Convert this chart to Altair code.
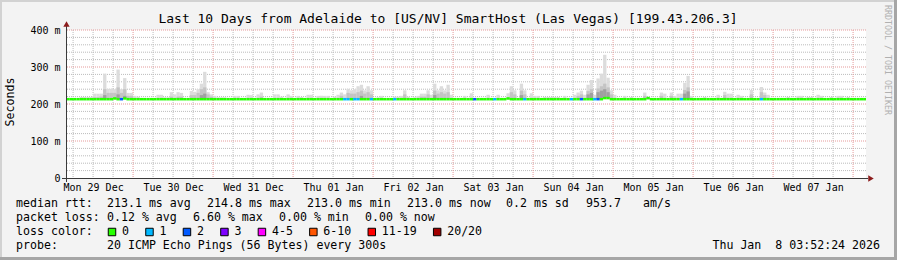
import altair as alt
import pandas as pd

MONO = "DejaVu Sans Mono"
TITLE = "Last 10 Days from Adelaide to [US/NV] SmartHost (Las Vegas) [199.43.206.3]"
VIEW_START = "2025-12-29 03:52:24"
VIEW_END = "2026-01-08 03:52:24"
FIRST_BIN = "2025-12-29 04:00:00"

# hourly smoke: highest ping (ms)
HI = [
    214, 214, 214, 214, 219, 219, 219, 219, 228, 228, 228, 282,
    241, 241, 240, 293, 240, 270, 230, 230, 222, 220, 214, 214,
    214, 214, 214, 225, 225, 218, 218, 232, 226, 232, 230, 215,
    215, 235, 233, 240, 255, 287, 232, 226, 222, 218, 218, 218,
    214, 214, 222, 222, 214, 214, 225, 224, 214, 226, 231, 214,
    214, 214, 226, 226, 220, 214, 226, 222, 214, 222, 219, 214,
    225, 225, 214, 222, 222, 222, 222, 214, 220, 225, 231, 226,
    241, 237, 240, 248, 252, 237, 248, 237, 214, 218, 222, 214,
    214, 214, 220, 220, 222, 237, 220, 214, 218, 222, 228, 228,
    237, 225, 255, 237, 248, 237, 252, 225, 214, 214, 214, 222,
    214, 229, 214, 214, 214, 214, 225, 214, 214, 225, 214, 214,
    229, 248, 237, 214, 255, 237, 214, 229, 222, 222, 214, 219,
    219, 219, 219, 219, 214, 222, 214, 214, 225, 231, 236, 225,
    252, 265, 225, 269, 282, 333, 271, 237, 225, 214, 214, 222,
    214, 219, 214, 214, 214, 231, 219, 214, 214, 214, 231, 228,
    214, 231, 222, 228, 228, 257, 276, 222, 214, 214, 214, 219,
    214, 214, 214, 225, 214, 233, 228, 228, 214, 225, 222, 214,
    214, 238, 214, 214, 246, 231, 225, 214, 214, 214, 214, 214,
    219, 214, 214, 222, 222, 214, 219, 219, 214, 225, 222, 214,
    214, 219, 214, 222, 222, 214, 219, 214, 214, 214, 214, 214,
]
# hourly smoke: inner (darker) band top (ms)
MID = [
    213, 213, 213, 213, 213, 213, 213, 213, 218, 218, 220, 240,
    230, 230, 230, 245, 230, 240, 222, 222, 216, 216, 213, 213,
    213, 213, 213, 213, 213, 213, 213, 220, 213, 220, 220, 213,
    213, 224, 224, 230, 240, 245, 226, 220, 213, 213, 213, 213,
    213, 213, 213, 213, 213, 213, 213, 213, 213, 213, 220, 213,
    213, 213, 213, 213, 213, 213, 213, 213, 213, 213, 213, 213,
    213, 213, 213, 213, 213, 213, 213, 213, 213, 213, 222, 213,
    230, 228, 228, 232, 236, 228, 232, 226, 213, 213, 213, 213,
    213, 213, 213, 213, 213, 226, 213, 213, 213, 213, 220, 220,
    226, 213, 236, 228, 232, 228, 232, 213, 213, 213, 213, 213,
    213, 213, 213, 213, 213, 213, 213, 213, 213, 213, 213, 213,
    213, 232, 226, 213, 236, 226, 213, 213, 213, 213, 213, 213,
    213, 213, 213, 213, 213, 213, 213, 213, 213, 222, 226, 213,
    235, 240, 213, 242, 248, 255, 245, 226, 213, 213, 213, 213,
    213, 213, 213, 213, 213, 222, 213, 213, 213, 213, 222, 213,
    213, 222, 213, 213, 213, 238, 245, 213, 213, 213, 213, 213,
    213, 213, 213, 213, 213, 224, 213, 213, 213, 213, 213, 213,
    213, 226, 213, 213, 232, 224, 213, 213, 213, 213, 213, 213,
    213, 213, 213, 213, 213, 213, 213, 213, 213, 213, 213, 213,
    213, 213, 213, 213, 213, 213, 213, 213, 213, 213, 213, 213,
]
# hourly smoke: core (darkest) band top (ms)
CORE = [
    213, 213, 213, 213, 213, 213, 213, 213, 213, 213, 213, 224,
    213, 213, 213, 226, 213, 222, 213, 213, 213, 213, 213, 213,
    213, 213, 213, 213, 213, 213, 213, 213, 213, 213, 213, 213,
    213, 213, 213, 213, 224, 228, 213, 213, 213, 213, 213, 213,
    213, 213, 213, 213, 213, 213, 213, 213, 213, 213, 213, 213,
    213, 213, 213, 213, 213, 213, 213, 213, 213, 213, 213, 213,
    213, 213, 213, 213, 213, 213, 213, 213, 213, 213, 213, 213,
    213, 213, 213, 213, 222, 213, 213, 213, 213, 213, 213, 213,
    213, 213, 213, 213, 213, 213, 213, 213, 213, 213, 213, 213,
    213, 213, 224, 213, 213, 213, 213, 213, 213, 213, 213, 213,
    213, 213, 213, 213, 213, 213, 213, 213, 213, 213, 213, 213,
    213, 213, 213, 213, 224, 213, 213, 213, 213, 213, 213, 213,
    213, 213, 213, 213, 213, 213, 213, 213, 213, 213, 213, 213,
    226, 230, 213, 232, 236, 240, 232, 213, 213, 213, 213, 213,
    213, 213, 213, 213, 213, 213, 213, 213, 213, 213, 213, 213,
    213, 213, 213, 213, 213, 228, 234, 213, 213, 213, 213, 213,
    213, 213, 213, 213, 213, 213, 213, 213, 213, 213, 213, 213,
    213, 213, 213, 213, 213, 213, 213, 213, 213, 213, 213, 213,
    213, 213, 213, 213, 213, 213, 213, 213, 213, 213, 213, 213,
    213, 213, 213, 213, 213, 213, 213, 213, 213, 213, 213, 213,
]
# hourly median rtt (ms)
MEDIAN = [
    213, 213, 213, 213, 213, 213, 213, 213, 213, 213, 213, 213,
    213, 213, 215, 213, 213, 215, 213, 213, 213, 213, 213, 213,
    213, 213, 213, 213, 213, 213, 213, 213, 213, 213, 213, 213,
    213, 213, 213, 213, 213, 213, 213, 213, 213, 213, 213, 213,
    213, 213, 213, 213, 213, 213, 213, 213, 213, 213, 213, 213,
    213, 213, 213, 213, 213, 213, 213, 213, 213, 213, 213, 213,
    213, 213, 213, 213, 213, 213, 213, 213, 213, 213, 213, 213,
    213, 213, 213, 213, 213, 213, 213, 213, 213, 213, 213, 213,
    213, 213, 213, 213, 213, 213, 213, 213, 213, 213, 213, 213,
    213, 213, 213, 213, 213, 213, 213, 213, 213, 213, 213, 213,
    213, 213, 213, 213, 213, 213, 213, 213, 213, 213, 213, 213,
    215, 213, 213, 213, 213, 213, 213, 213, 213, 213, 213, 213,
    213, 213, 213, 213, 213, 213, 213, 213, 213, 213, 213, 213,
    213, 213, 213, 213, 213, 216, 216, 213, 213, 213, 213, 213,
    213, 213, 213, 213, 213, 213, 216, 213, 213, 213, 213, 213,
    213, 213, 213, 213, 213, 213, 213, 213, 213, 213, 213, 213,
    213, 213, 213, 213, 213, 213, 213, 213, 213, 213, 213, 213,
    213, 213, 213, 213, 213, 213, 213, 213, 213, 213, 213, 213,
    213, 213, 213, 213, 213, 213, 213, 213, 213, 213, 213, 213,
    213, 213, 213, 213, 213, 213, 213, 213, 213, 213, 213, 213,
]
# hourly loss class (index into LOSS_LABELS)
LOSS = [
    0, 0, 0, 0, 0, 0, 0, 0, 0, 0, 0, 0,
    0, 0, 0, 0, 2, 0, 0, 0, 0, 0, 0, 0,
    0, 0, 0, 0, 0, 0, 0, 0, 0, 0, 0, 0,
    0, 0, 0, 0, 0, 0, 0, 0, 0, 0, 0, 0,
    0, 0, 0, 0, 0, 0, 0, 0, 0, 0, 0, 0,
    0, 0, 0, 0, 0, 0, 0, 0, 0, 0, 0, 0,
    0, 0, 0, 0, 0, 0, 0, 0, 0, 0, 0, 1,
    1, 0, 1, 1, 0, 0, 0, 1, 0, 0, 0, 0,
    0, 0, 1, 0, 0, 0, 0, 0, 0, 0, 0, 0,
    0, 0, 0, 0, 0, 0, 0, 0, 0, 0, 0, 0,
    0, 0, 2, 0, 0, 0, 0, 0, 1, 0, 0, 0,
    0, 0, 0, 0, 0, 1, 0, 0, 0, 0, 0, 0,
    0, 0, 0, 0, 0, 0, 0, 1, 0, 0, 2, 0,
    0, 0, 1, 2, 0, 0, 0, 0, 0, 0, 0, 0,
    0, 0, 0, 0, 0, 0, 0, 0, 0, 0, 0, 0,
    0, 0, 0, 0, 1, 0, 0, 0, 0, 0, 0, 0,
    0, 0, 0, 0, 0, 0, 0, 0, 0, 0, 0, 0,
    0, 0, 0, 0, 1, 0, 0, 0, 0, 0, 0, 0,
    0, 0, 0, 0, 0, 0, 0, 0, 0, 0, 0, 0,
    0, 0, 0, 0, 0, 0, 0, 0, 0, 0, 0, 0,
]
LOSS_LABELS = ["0", "1", "2", "3", "4-5", "6-10", "11-19", "20/20"]
LOSS_COLORS = ["#26ff00", "#00b8ff", "#0059ff", "#7e00ff", "#ff00ff", "#ff5500", "#ff0000", "#a10000"]

Y_TICKS = list(range(0, 401, 20))

ROW1 = ["median rtt:", "213.1 ms avg", "214.8 ms max", "213.0 ms min", "213.0 ms now", "0.2 ms sd", "953.7", "am/s"]
ROW2 = ["packet loss:", "0.12 % avg", "6.60 % max", "0.00 % min", "0.00 % now"]
ROW4 = ["probe:", "20 ICMP Echo Pings (56 Bytes) every 300s"]
STAMP = "Thu Jan\u00a0\u00a08 03:52:24 2026"
CREDIT = "RRDTOOL / TOBI OETIKER"

assert all(len(a) == 240 for a in (HI, MID, CORE, MEDIAN, LOSS))

# ---------------------------------------------------------------- layout
W, H = 800, 148
PL, PT, PR, PB = 66, 30, 31, 82
CW = 6.98  # footer char width
GRAY = "#bcbcbc"
RED = "#e59a9a"
AXC = "#3a3a3a"
ARROW = "#8c1c1c"


def ms(ts):
    return int(pd.Timestamp(ts, tz="UTC").value // 10**6)


t = pd.date_range(FIRST_BIN, periods=len(HI), freq="h", tz="UTC")
df = pd.DataFrame({
    "t": t.asi8 // 10**6,
    "t2": (t + pd.Timedelta(hours=1)).asi8 // 10**6,
    "hi": HI, "mid": MID, "core": CORE, "med": MEDIAN,
    "loss": [LOSS_LABELS[i] for i in LOSS],
})

grid_vals = [int(v // 10**6) for v in pd.date_range("2025-12-29 06:00", "2026-01-08 00:00", freq="6h", tz="UTC").asi8]

XS = alt.Scale(type="utc", domain=[ms(VIEW_START), ms(VIEW_END)], nice=False)
YS = alt.Scale(domain=[0, 400], nice=False, zero=True)

x_axis = alt.Axis(
    values=grid_vals, title=None, grid=False, domain=False, ticks=False, tickSize=0,
    labelExpr="utchours(datum.value) === 12 ? utcFormat(datum.value, '%a %d %b') : ''",
    labelFont=MONO, labelFontSize=10, labelColor="#000", labelPadding=4,
    labelOverlap=False, labelFlush=False, labelBound=False, labelAngle=0,
)
y_axis = alt.Axis(
    values=Y_TICKS, title=None, grid=False, domain=False, ticks=False, tickSize=0,
    labelExpr="datum.value === 0 ? '0\u00a0\u00a0' : (datum.value % 100 === 0 ? datum.value + ' m' : '')",
    labelFont=MONO, labelFontSize=10, labelColor="#000", labelPadding=6,
    labelOverlap=False, labelFlush=False, labelBound=False, labelBaseline="middle",
)
X = alt.X("t:T", scale=XS, axis=x_axis)
Y = alt.Y("med:Q", scale=YS, axis=y_axis)

layers = []

# grid lines (drawn from the tick lists through the scales)
gx = pd.DataFrame({"t": grid_vals, "major": [pd.Timestamp(v, unit="ms").hour == 0 for v in grid_vals]})
gy = pd.DataFrame({"med": Y_TICKS[1:], "major": [v % 100 == 0 for v in Y_TICKS[1:]]})
for major, col in ((False, GRAY), (True, RED)):
    layers.append(alt.Chart(gx[gx.major == major]).mark_rule(color=col, strokeDash=[1, 1], strokeWidth=1).encode(x=X))
    layers.append(alt.Chart(gy[gy.major == major]).mark_rule(color=col, strokeDash=[1, 1], strokeWidth=1).encode(y=Y))

base = alt.Chart(df)
for field, col in (("hi", "#dcdcdc"), ("mid", "#c4c4c4"), ("core", "#a0a0a0")):
    layers.append(base.mark_rect(color=col, clip=True).encode(x=X, x2="t2:T", y=Y, y2=f"{field}:Q"))
layers.append(
    base.mark_rule(strokeWidth=2.5, clip=True).encode(
        x=X, x2="t2:T", y=Y,
        color=alt.Color("loss:N", scale=alt.Scale(domain=LOSS_LABELS, range=LOSS_COLORS), legend=None),
    )
)


def one():
    return alt.Chart(pd.DataFrame({"k": [0]}))


def rule(x, y, x2=None, y2=None, color=AXC, width=1):
    enc = {"x": alt.value(x - PL), "y": alt.value(y - PT)}
    if x2 is not None:
        enc["x2"] = alt.value(x2 - PL)
    if y2 is not None:
        enc["y2"] = alt.value(y2 - PT)
    return one().mark_rule(color=color, strokeWidth=width).encode(**enc)


def text(s, x, y, size=11.6, align="left", color="#000", angle=0, font=MONO):
    kw = dict(font=font, fontSize=size, align=align, baseline="middle", color=color)
    if angle:
        kw["angle"] = angle
    return alt.Chart(pd.DataFrame({"s": [s]})).mark_text(**kw).encode(
        text="s:N", x=alt.value(x - PL), y=alt.value(y - PT))


# frame
layers += [
    rule(0, 1, x2=897, color="#d2d2d2", width=2),
    rule(1, 0, y2=260, color="#d2d2d2", width=2),
    rule(0, 258.5, x2=897, color="#a6a6a6", width=3),
    rule(895.5, 0, y2=260, color="#a6a6a6", width=3),
]
# axis lines + arrows
layers += [
    rule(66.5, 26, y2=182, color=AXC),
    rule(62, 178.5, x2=868, color=AXC),
    one().mark_point(shape="triangle-up", filled=True, size=40, color=ARROW, opacity=1).encode(
        x=alt.value(66.5 - PL), y=alt.value(24 - PT)),
    one().mark_point(shape="triangle-right", filled=True, size=40, color=ARROW, opacity=1).encode(
        x=alt.value(871 - PL), y=alt.value(178.5 - PT)),
]

# titles
layers += [
    text(TITLE, 448, 19, size=13, align="center"),
    text("Seconds", 11, 102, size=11.6, align="center", angle=270),
    text(CREDIT, 887, 5, size=8.3, color="#b0b0b0", angle=90),
]

# footer rows
row1_x = [16, 107, 207, 307, 407, 506, 586, 643]
for s, x in zip(ROW1, row1_x):
    layers.append(text(s, x, 204))
row2_x = [16, 107, 193, 279, 365]
for s, x in zip(ROW2, row2_x):
    layers.append(text(s, x, 218))
layers.append(text("loss color:", 16, 232))
bx = 108
for lab, col in zip(LOSS_LABELS, LOSS_COLORS):
    layers.append(one().mark_square(size=56, filled=True, color=col, stroke="#000", strokeWidth=1, opacity=1).encode(
        x=alt.value(bx + 4 - PL), y=alt.value(232 - PT)))
    layers.append(text(lab, bx + 14, 232))
    bx = bx + 14 + len(lab) * CW + 16.5
layers.append(text(ROW4[0], 16, 246))
layers.append(text(ROW4[1], 107, 246))
layers.append(text(STAMP, 880, 246, align="right"))

chart = alt.layer(*layers).properties(
    width=W, height=H,
    padding={"left": PL, "top": PT, "right": PR, "bottom": PB},
    autosize=alt.AutoSizeParams(type="none"),
).configure(background="#f3f3f3").configure_view(fill="white", strokeWidth=0)

chart.save("out.html", embed_options={"renderer": "svg", "actions": False})
